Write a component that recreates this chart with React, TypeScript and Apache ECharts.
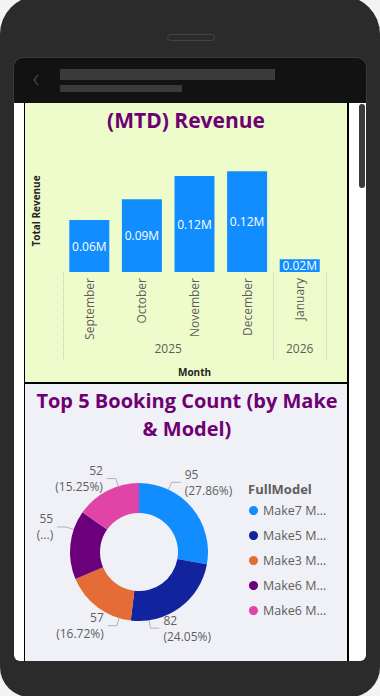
import React, { useEffect, useRef } from 'react';
import * as echarts from 'echarts';

// ---- data ----
const months = ['September', 'October', 'November', 'December', 'January'];
const revenue = [63800, 89300, 117900, 124000, 15600];
const yearTicks = ['', '', '', '', '2025', '', '', '', '', '2026', ''];
const yearBoundaryIdx = [0, 8, 10];

const models = ['Make7 M...', 'Make5 M...', 'Make3 M...', 'Make6 M...', 'Make6 M...'];
const bookings = [95, 82, 57, 55, 52];
const pctTruncated = [false, false, false, true, false];
const modelColors = ['#118DFF', '#12239E', '#E66C37', '#6B007B', '#E044A7'];

const FONT = "'Open Sans', 'Noto Sans', sans-serif";
const TITLE_COLOR = '#6F0073';
const GREY = '#605E5C';

export default function App() {
  const ref = useRef<HTMLDivElement>(null);

  useEffect(() => {
    document.body.style.margin = '0';
    const chart = echarts.init(ref.current as HTMLDivElement, null, { renderer: 'svg' });
    const total = bookings.reduce((a, b) => a + b, 0);
    const zw = '\u200b';
    const pieData = bookings.map((v, i) => ({
      name: models[i] + zw.repeat(i),
      value: v,
      itemStyle: { color: modelColors[i] },
    }));

    // pie geometry
    const PCX = 139;
    const PCY = 552;
    const R_IN = 39;
    const R_OUT = 69;
    // vertical spreading of outside labels (Power BI style)
    const labelSpread = [-21, 15, 13, -17, -6];

    chart.setOption({
      animation: false,
      backgroundColor: 'transparent',
      textStyle: { fontFamily: FONT },
      graphic: [
        {
          type: 'text', x: 186, y: 120,
          style: { text: '(MTD) Revenue', align: 'center', verticalAlign: 'middle', fontFamily: FONT, fontWeight: 'bold', fontSize: 21, fill: TITLE_COLOR },
        },
        {
          type: 'text', x: 187, y: 414,
          style: { text: 'Top 5 Booking Count (by Make\n& Model)', align: 'center', verticalAlign: 'middle', lineHeight: 28, fontFamily: FONT, fontWeight: 'bold', fontSize: 20, fill: TITLE_COLOR },
        },
        {
          type: 'text', x: 248, y: 489,
          style: { text: 'FullModel', align: 'left', verticalAlign: 'middle', fontFamily: FONT, fontWeight: 'bold', fontSize: 13, fill: GREY },
        },
      ],
      grid: [{ left: 63, right: 54, top: 150, bottom: 424 }],
      xAxis: [
        {
          type: 'category', gridIndex: 0, data: months, position: 'bottom',
          axisLine: { show: false }, axisTick: { show: false },
          axisLabel: { rotate: 90, color: GREY, fontSize: 12, margin: 6, fontFamily: FONT },
          name: 'Month', nameLocation: 'middle', nameGap: 95,
          nameTextStyle: { fontWeight: 'bold', fontSize: 10, color: '#252423', fontFamily: FONT },
        },
        {
          type: 'category', gridIndex: 0, data: yearTicks, position: 'bottom', boundaryGap: false,
          axisLine: { show: false },
          axisTick: {
            show: true, length: 88,
            interval: (idx: number) => yearBoundaryIdx.includes(idx),
            lineStyle: { type: 'dotted', color: '#C8C6C4', width: 1 },
          },
          axisLabel: { interval: 0, color: GREY, fontSize: 12, margin: 70, fontFamily: FONT },
        },
      ],
      yAxis: [
        {
          type: 'value', gridIndex: 0, min: 0, max: 150000,
          axisLabel: { show: false }, axisLine: { show: false }, axisTick: { show: false }, splitLine: { show: false },
          name: 'Total Revenue', nameLocation: 'middle', nameGap: 22,
          nameTextStyle: { fontWeight: 'bold', fontSize: 10, color: '#252423', fontFamily: FONT },
        },
      ],
      legend: {
        orient: 'vertical', left: 249, top: 504, padding: 0, icon: 'circle', itemWidth: 9, itemHeight: 9, itemGap: 12,
        selectedMode: false,
        textStyle: { color: GREY, fontSize: 12.5, fontFamily: FONT },
        formatter: (n: string) => n.replace(/\u200b/g, ''),
        data: pieData.map((d) => d.name),
      },
      series: [
        {
          type: 'bar', xAxisIndex: 0, yAxisIndex: 0, data: revenue, barWidth: 40,
          itemStyle: { color: '#118DFF' },
          label: {
            show: true, position: 'inside', color: '#FFFFFF', fontSize: 12, fontFamily: FONT,
            formatter: (p: any) => (p.value / 1e6).toFixed(2) + 'M',
          },
        },
        {
          type: 'pie', center: [PCX, PCY], radius: [R_IN, R_OUT], startAngle: 90,
          data: pieData,
          label: {
            show: true, color: GREY, fontSize: 12, lineHeight: 16, fontFamily: FONT,
            formatter: (p: any) => `${p.value}\n(${pctTruncated[p.dataIndex] ? '...' : ((p.value / total) * 100).toFixed(2) + '%'})`,
          },
          labelLine: { length: 7, length2: 9, lineStyle: { color: '#B3B0AD', width: 1 } },
          labelLayout: (p: any) => {
            const r = p.labelRect;
            const right = r.x + r.width / 2 > PCX;
            const ty = r.y + r.height / 2 + (labelSpread[p.dataIndex] || 0);
            const E = R_OUT + 8;
            const ddy = ty - PCY;
            const ex = Math.sqrt(Math.max(E * E - ddy * ddy, 0));
            const elbow = [PCX + (right ? ex : -ex), ty];
            const start = [PCX + ((elbow[0] - PCX) * R_OUT) / E, PCY + (ddy * R_OUT) / E];
            const end = [elbow[0] + (right ? 9 : -9), ty];
            return { x: end[0] + (right ? 4 : -4), y: ty, labelLinePoints: [start, elbow, end] };
          },
        },
      ],
    });
    return () => chart.dispose();
  }, []);

  const abs = (s: React.CSSProperties): React.CSSProperties => ({ position: 'absolute', ...s });

  return (
    <div style={{ position: 'relative', width: 380, height: 696, overflow: 'hidden', background: '#F3F3F3' }}>
      <div style={abs({ left: 0, top: -4, width: 380, height: 701, background: '#2B2B2B', borderRadius: '38px 38px 30px 30px' })} />
      <div style={abs({ left: 167, top: 34, width: 46, height: 5, border: '1px solid #444', borderRadius: 4 })} />
      <div style={abs({ left: 13, top: 57, width: 352, height: 46, background: '#121212', border: '1px solid #3A3A3A', borderBottom: 'none', borderRadius: '10px 10px 0 0' })} />
      <svg style={abs({ left: 30, top: 72, width: 14, height: 18 })} width={14} height={18}>
        <polyline points="8,3 4,8 8,13" fill="none" stroke="#444" strokeWidth={1.3} />
      </svg>
      <div style={abs({ left: 60, top: 69, width: 215, height: 11, background: '#3A3A3A' })} />
      <div style={abs({ left: 60, top: 85, width: 122, height: 7, background: '#3A3A3A' })} />
      <div style={abs({ left: 14, top: 103, width: 352, height: 558, background: '#FFFFFF', borderRadius: '0 0 6px 6px' })} />
      <div style={abs({ left: 359, top: 104, width: 6, height: 84, background: '#3A3A3A', borderRadius: 3 })} />
      <div style={abs({ left: 25, top: 103, width: 322, height: 279, background: '#EEFCCB' })} />
      <div style={abs({ left: 25, top: 384, width: 322, height: 277, background: '#F0F1F7' })} />
      <div style={abs({ left: 24, top: 382, width: 325, height: 2, background: '#000' })} />
      <div style={abs({ left: 24, top: 103, width: 1, height: 558, background: '#000' })} />
      <div style={abs({ left: 347, top: 103, width: 2, height: 558, background: '#000' })} />
      <div ref={ref} style={abs({ left: 0, top: 0, width: 380, height: 696 })} />
    </div>
  );
}
